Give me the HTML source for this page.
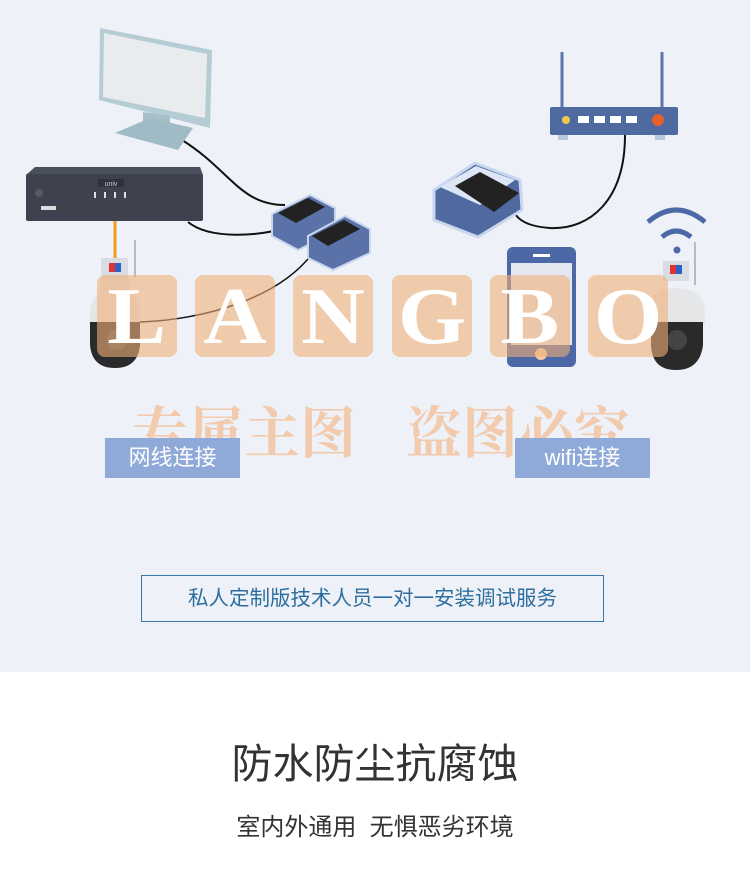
<!DOCTYPE html>
<html><head><meta charset="utf-8"><style>
body{margin:0;width:750px;height:886px;position:relative;overflow:hidden;background:#fff;font-family:"Liberation Sans","Noto Sans CJK SC",sans-serif}
.top{position:absolute;left:0;top:0;width:750px;height:672px;background:#eef2f8}
.abs{position:absolute}
.wm{position:absolute;top:275px;width:80px;height:82px;border-radius:8px;background:rgba(240,175,120,0.6);color:#fff;font:bold 80px/84px "Liberation Serif","Noto Serif CJK SC",serif;text-align:center}
.wm span{display:inline-block;transform:scaleX(1.1)}
.lab{position:absolute;top:438px;height:40px;background:#8fa9d8;color:#fff;font-size:22px;line-height:40px;text-align:center}
</style></head><body>
<div class="top"></div>
<svg class="abs" style="left:0;top:0" width="750" height="672">
<path d="M182,140 C230,170 240,205 285,205" stroke="#111" stroke-width="2" fill="none"/>
<path d="M188,222 C210,240 260,236 285,228" stroke="#111" stroke-width="2" fill="none"/>
<path d="M315,250 C280,300 200,320 140,322" stroke="#111" stroke-width="1.5" fill="none"/>
<path d="M625,135 C625,200 590,230 550,228 C520,226 515,215 512,208" stroke="#111" stroke-width="2" fill="none"/>
<line x1="115" y1="220" x2="115" y2="258" stroke="#f39a1e" stroke-width="3"/>
<polygon points="100,28 212,50 210,128 99,100" fill="#b6ccd4"/>
<polygon points="104,33 207,54 205,118 103,97" fill="#e9ecee"/>
<polygon points="143,112 170,116 170,128 143,124" fill="#a6bfc8"/>
<polygon points="115,133 150,118 193,128 178,150" fill="#9fbcc6"/>
<polygon points="35,167 200,167 203,175 26,175" fill="#4a4f5c"/>
<rect x="26" y="174" width="177" height="47" rx="2" fill="#3d424e"/>
<rect x="98" y="179" width="26" height="8" fill="#2e323c"/>
<text x="111" y="186" font-size="7" fill="#ccc" text-anchor="middle" font-family="Liberation Sans">univ</text>
<circle cx="39" cy="193" r="4" fill="#555a66"/>
<rect x="41" y="206" width="15" height="4" fill="#ddd"/>
<g fill="#ddd"><rect x="94" y="192" width="2" height="6"/><rect x="104" y="192" width="2" height="6"/><rect x="114" y="192" width="2" height="6"/><rect x="124" y="192" width="2" height="6"/></g>
<g>
<polygon points="272,214 310,195 335,208 335,232 298,250 272,236" fill="#5a72a8" stroke="#c8d6ee" stroke-width="2"/>
<polygon points="278,213 308,198 325,207 296,223" fill="#222"/>
<polygon points="308,236 345,216 370,229 370,253 333,270 308,258" fill="#5a72a8" stroke="#c8d6ee" stroke-width="2"/>
<polygon points="312,236 344,220 360,229 328,246" fill="#222"/>
</g>
<rect x="101" y="258" width="27" height="20" fill="#d9dde3"/>
<rect x="109" y="263" width="12" height="9" fill="#d33"/><rect x="115" y="263" width="6" height="9" fill="#2b62c8"/>
<line x1="135" y1="240" x2="135" y2="277" stroke="#bbb" stroke-width="2"/>
<rect x="100" y="278" width="30" height="15" fill="#e1e3e6"/>
<path d="M90,310 Q92,290 115,290 Q138,290 140,310 L140,325 L90,325Z" fill="#e5e6e8"/>
<path d="M90,322 L140,322 L140,345 Q138,368 115,368 Q92,368 90,345Z" fill="#2a2a2a"/>
<circle cx="117" cy="340" r="10" fill="#444"/>
<line x1="562" y1="52" x2="562" y2="108" stroke="#5a72a8" stroke-width="3"/>
<line x1="662" y1="52" x2="662" y2="108" stroke="#5a72a8" stroke-width="3"/>
<rect x="550" y="107" width="128" height="28" rx="2" fill="#4f6aa0"/>
<rect x="558" y="135" width="10" height="5" fill="#b8c8e2"/><rect x="655" y="135" width="10" height="5" fill="#b8c8e2"/>
<circle cx="566" cy="120" r="4" fill="#f2c84b"/>
<g fill="#fff"><rect x="578" y="116" width="11" height="7"/><rect x="594" y="116" width="11" height="7"/><rect x="610" y="116" width="11" height="7"/><rect x="626" y="116" width="11" height="7"/></g>
<circle cx="658" cy="120" r="6" fill="#e8602c"/>
<polygon points="434,190 475,163 520,180 522,210 478,237 434,220" fill="#4f6aa0" stroke="#c8d6ee" stroke-width="3"/>
<polygon points="440,187 476,166 515,180 480,205" fill="#dce6f4"/>
<polygon points="455,186 480,172 519,193 494,212" fill="#222"/>
<rect x="507" y="247" width="69" height="120" rx="6" fill="#4d68a6"/>
<rect x="511" y="263" width="61" height="82" fill="#e3e8f0"/>
<rect x="533" y="254" width="17" height="3" fill="#fff"/>
<circle cx="541" cy="354" r="6" fill="#f1c9a4"/>
<path d="M648,222 Q676,198 705,222" stroke="#4d68a6" stroke-width="5" fill="none"/>
<path d="M662,237 Q676,225 691,237" stroke="#4d68a6" stroke-width="5" fill="none"/>
<circle cx="677" cy="250" r="3.5" fill="#4d68a6"/>
<rect x="663" y="261" width="26" height="20" fill="#d9dde3"/>
<rect x="670" y="265" width="12" height="9" fill="#d33"/><rect x="676" y="265" width="6" height="9" fill="#2b62c8"/>
<line x1="695" y1="242" x2="695" y2="285" stroke="#bbb" stroke-width="2"/>
<path d="M648,310 Q650,288 676,288 Q702,288 705,310 L705,325 L648,325Z" fill="#e5e6e8"/>
<path d="M651,322 L703,322 L703,345 Q700,370 676,370 Q652,370 651,345Z" fill="#2a2a2a"/>
<circle cx="677" cy="340" r="10" fill="#444"/>
</svg>
<div class="wm" style="left:97px"><span>L</span></div>
<div class="wm" style="left:195px"><span>A</span></div>
<div class="wm" style="left:293px"><span>N</span></div>
<div class="wm" style="left:392px"><span>G</span></div>
<div class="wm" style="left:490px"><span>B</span></div>
<div class="wm" style="left:588px"><span>O</span></div>
<div class="abs" style="left:132px;top:400px;font:bold 56px/60px 'Noto Serif CJK SC',serif;color:rgba(243,190,150,0.75);white-space:nowrap">专属主图<span style="margin-left:50px">盗图必究</span></div>
<div class="lab" style="left:105px;width:135px">网线连接</div>
<div class="lab" style="left:515px;width:135px">wifi连接</div>
<div class="abs" style="left:141px;top:575px;width:461px;height:45px;border:1.5px solid #3a78a8;color:#2e6e9e;font-size:20.5px;line-height:45px;text-align:center;white-space:nowrap">私人定制版技术人员一对一安装调试服务</div>
<div class="abs" style="left:0;top:738px;width:750px;text-align:center;font-size:41px;line-height:52px;color:#333">防水防尘抗腐蚀</div>
<div class="abs" style="left:0;top:813px;width:750px;text-align:center;font-size:24px;line-height:30px;color:#333">室内外通用&nbsp;&nbsp;无惧恶劣环境</div>
</body></html>
